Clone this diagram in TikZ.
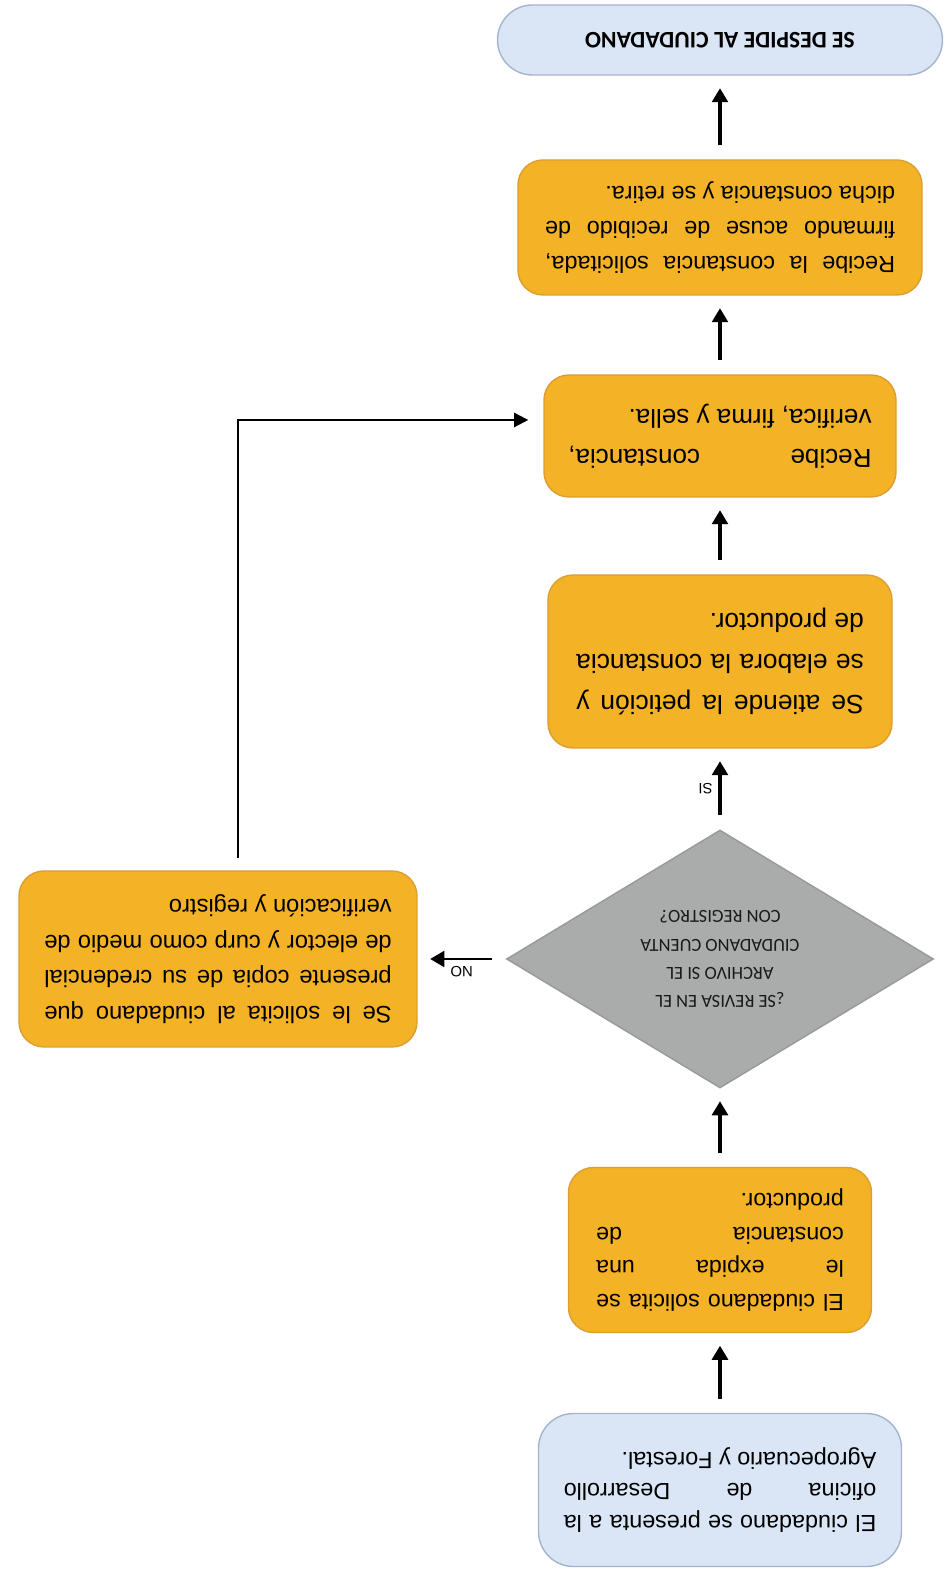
\documentclass[tikz,border=0pt]{standalone}
\usepackage{fontspec}
\setmainfont{Liberation Sans}
\newfontfamily\calibri{Carlito}
\usetikzlibrary{positioning, shapes.geometric, arrows.meta}

\definecolor{naranja}{RGB}{244,178,38}
\definecolor{bordenaranja}{RGB}{220,158,48}
\definecolor{azulclaro}{RGB}{218,230,246}
\definecolor{bordeazul}{RGB}{165,180,205}
\definecolor{grisrombo}{RGB}{170,172,172}

\pretolerance=10000
\tolerance=10000
\hbadness=10000

\begin{document}
\begin{tikzpicture}[rotate=180, transform shape, node distance=4cm, auto, thick,
    proceso/.style={draw=bordenaranja, fill=naranja, rectangle, rounded corners=0.5cm, align=justify, inner sep=2pt, text=black},
    terminal/.style={draw=bordeazul, fill=azulclaro, rectangle, rounded corners=0.7cm, inner sep=2pt, text=black},
    rombo/.style={draw=gray!80, fill=grisrombo, diamond, aspect=1.65, minimum width=8.54cm, minimum height=5.16cm, inner sep=0pt, align=center, text=black!90},
    flecha/.style={-{Triangle[width=9pt,length=8pt]}, line width=1.8pt, shorten <=0.28cm, shorten >=0.25cm},
    conector/.style={-{Triangle[width=8pt,length=8pt]}, line width=1.2pt, shorten <=0.24cm, shorten >=0.3cm},
    etiqueta/.style={font=\fontsize{8.5}{10}\selectfont}]
    \useasboundingbox (-4.62,1.7) rectangle (14.4,-29.8);

    % Nodes
    \node[terminal, minimum width=7.26cm, minimum height=3.06cm, text width=6.25cm, align=justify, font=\fontsize{13.3}{18}\selectfont] (inicio) {El ciudadano se presenta a la\linebreak oficina de Desarrollo\linebreak Agropecuario y Forestal.};
    \node[proceso, minimum width=6.06cm, minimum height=3.3cm, text width=4.95cm, font=\fontsize{13.2}{19.3}\selectfont, below of=inicio, node distance=4.8cm] (solicita) {El ciudadano solicita se\linebreak le expida una\linebreak constancia de\linebreak productor.};
    \node[rombo, font=\calibri\fontsize{10.5}{16}\selectfont, below of=solicita, node distance=5.82cm] (decision) {¿SE REVISA EN EL\\ARCHIVO SI EL\\CIUDADANO CUENTA\\CON REGISTRO?};
    \node[proceso, minimum width=6.88cm, minimum height=3.46cm, text width=5.75cm, font=\fontsize{15}{23.6}\selectfont, below of=decision, node distance=5.95cm] (atiende) {Se atiende la petición y\linebreak se elabora la constancia\linebreak de productor.};
    \node[proceso, minimum width=7.04cm, minimum height=2.44cm, text width=6.06cm, font=\fontsize{14.8}{22.7}\selectfont, below of=atiende, node distance=4.51cm] (verifica) {Recibe constancia,\linebreak verifica, firma y sella.};
    \node[proceso, minimum width=8.08cm, minimum height=2.7cm, text width=7cm, font=\fontsize{13.3}{20}\selectfont, below of=verifica, node distance=4.17cm] (retira) {Recibe la constancia solicitada,\linebreak firmando acuse de recibido de\linebreak dicha constancia y se retira.};
    \node[terminal, minimum width=8.9cm, minimum height=1.4cm, font=\calibri\bfseries\fontsize{13.5}{16}\selectfont, below of=retira, node distance=3.75cm] (fin) {SE DESPIDE AL CIUDADANO};
    \node[proceso, minimum width=7.96cm, minimum height=3.52cm, text width=6.95cm, font=\fontsize{13.5}{20.2}\selectfont, right of=decision, node distance=10.04cm] (copia) {Se le solicita al ciudadano que\linebreak presente copia de su credencial\linebreak de elector y curp como medio de\linebreak verificación y registro};

    % Arrows
    \draw[flecha] (inicio) -- (solicita);
    \draw[flecha] (solicita) -- (decision);
    \draw[flecha] (decision) -- node[right, etiqueta] {SI} (atiende);
    \draw[flecha] (atiende) -- (verifica);
    \draw[flecha] (verifica) -- (retira);
    \draw[flecha] (retira) -- (fin);
    \draw[flecha, line width=1.4pt] (decision) -- node[above, etiqueta] {NO} (copia);
    \draw[conector] ([xshift=-0.4cm]copia.south) |- ([yshift=-0.32cm]verifica.east);
\end{tikzpicture}
\end{document}
